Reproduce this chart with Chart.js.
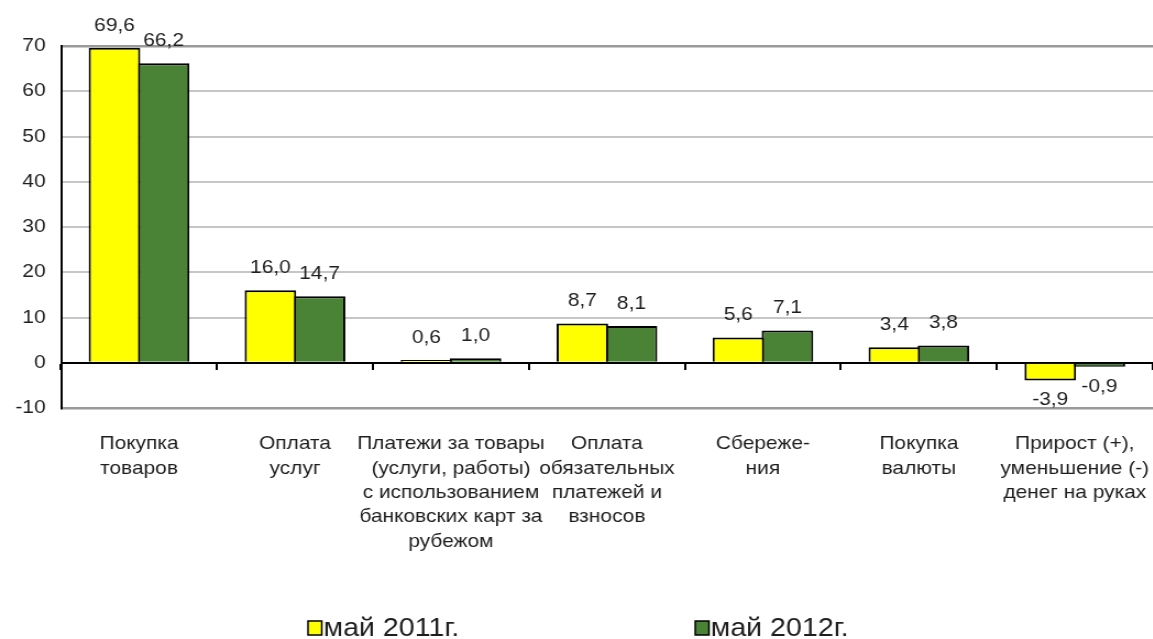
<!DOCTYPE html>
<html>
<head>
<meta charset="utf-8">
<script src="https://cdn.jsdelivr.net/npm/chart.js@4/dist/chart.umd.min.js"></script>
<style>
  html, body { margin: 0; padding: 0; background: #fff; overflow: hidden; }
  /* the reference is stretched horizontally, so the chart is drawn narrower and scaled */
  #wrap { width: 1048px; height: 639px; transform: scaleX(1.1); transform-origin: 0 0; }
</style>
</head>
<body>
<div id="wrap"><canvas id="chart" width="1048" height="639"></canvas></div>
<script>
// data
const categories = [
  ["Покупка", "товаров"],
  ["Оплата", "услуг"],
  ["Платежи за товары", "(услуги, работы)", "с использованием", "банковских карт за", "рубежом"],
  ["Оплата", "обязательных", "платежей и", "взносов"],
  ["Сбереже-", "ния"],
  ["Покупка", "валюты"],
  ["Прирост (+),", "уменьшение (-)", "денег на руках"]
];
const seriesNames = ["май 2011г.", "май 2012г."];
const may2011 = [69.6, 16.0, 0.6, 8.7, 5.6, 3.4, -3.9];
const may2012 = [66.2, 14.7, 1.0, 8.1, 7.1, 3.8, -0.9];
const yMin = -10, yMax = 70, yStep = 10;

const textColor = "#1e1e1e";
const fontFamily = "'Liberation Sans', Arial, sans-serif";

function fmt(v) {
  return v.toFixed(1).replace(".", ",");
}

// value labels above (or below for negatives) each bar
const valueLabels = {
  id: "valueLabels",
  afterDatasetsDraw(chart) {
    const ctx = chart.ctx;
    ctx.save();
    ctx.font = "19px " + fontFamily;
    ctx.fillStyle = textColor;
    ctx.textAlign = "center";
    chart.data.datasets.forEach((ds, i) => {
      chart.getDatasetMeta(i).data.forEach((bar, j) => {
        const v = ds.data[j];
        if (v >= 0) {
          ctx.textBaseline = "bottom";
          ctx.fillText(fmt(v), bar.x, bar.y - 13);
        } else {
          ctx.textBaseline = "top";
          ctx.fillText(fmt(v), bar.x, bar.y + 10);
        }
      });
    });
    ctx.restore();
  }
};

// legend at the bottom, two items spread apart
const bottomLegend = {
  id: "bottomLegend",
  afterDraw(chart, args, opts) {
    const ctx = chart.ctx;
    ctx.save();
    ctx.font = "26px " + fontFamily;
    ctx.textBaseline = "middle";
    ctx.textAlign = "left";
    chart.data.datasets.forEach((ds, i) => {
      const x = opts.xs[i];
      const y = opts.y;
      ctx.fillStyle = ds.backgroundColor;
      ctx.fillRect(x, y - 7, 12.5, 14);
      ctx.strokeStyle = "#000";
      ctx.lineWidth = 1.5;
      ctx.strokeRect(x, y - 7, 12.5, 14);
      ctx.fillStyle = textColor;
      ctx.fillText(ds.label, x + 14, y + 1);
    });
    ctx.restore();
  }
};

// keep the plot running to the right edge, as in the original
function noSidePadding(scale) {
  scale.paddingLeft = 0;
  scale.paddingRight = 0;
}

const ctx = document.getElementById("chart").getContext("2d");
new Chart(ctx, {
  type: "bar",
  data: {
    labels: categories,
    datasets: [
      {
        label: seriesNames[0],
        data: may2011,
        backgroundColor: "#FFFF00",
        borderColor: "#000",
        borderWidth: 2
      },
      {
        label: seriesNames[1],
        data: may2012,
        backgroundColor: "#4A8236",
        borderColor: "#000",
        borderWidth: 2
      }
    ]
  },
  options: {
    responsive: false,
    animation: false,
    categoryPercentage: 0.63,
    barPercentage: 1.05,
    layout: { padding: { top: 46, right: 0, left: 0, bottom: 0 } },
    plugins: {
      legend: { display: false },
      tooltip: { enabled: false },
      bottomLegend: { xs: [280, 632], y: 628 }
    },
    scales: {
      x: {
        position: "bottom",
        grid: { display: false },
        border: { display: false },
        ticks: {
          color: textColor,
          font: { size: 19, family: fontFamily, lineHeight: 1.28 },
          padding: 16,
          maxRotation: 0,
          autoSkip: false
        },
        afterFit(scale) {
          scale.height = 231;
          noSidePadding(scale);
        }
      },
      x2: {
        position: { y: 0 },
        grid: {
          drawOnChartArea: false,
          offset: true,
          tickLength: 6,
          color: "#000",
          lineWidth: 2
        },
        border: { display: true, color: "#000", width: 2 },
        ticks: { display: false },
        afterFit: noSidePadding
      },
      y: {
        min: yMin,
        max: yMax,
        ticks: {
          stepSize: yStep,
          color: textColor,
          font: { size: 19, family: fontFamily },
          padding: 14
        },
        grid: {
          drawTicks: false,
          color: (c) => c.tick.value === 0 ? "#000" : (c.tick.value === yMax || c.tick.value === yMin ? "#9a9a9a" : "#c6c6c6"),
          lineWidth: (c) => c.tick.value === yMax || c.tick.value === yMin ? 2.5 : 2
        },
        border: { display: true, color: "#000", width: 2 },
        afterFit(scale) { scale.width = 55.5; }
      }
    }
  },
  plugins: [valueLabels, bottomLegend]
});
</script>
</body>
</html>
